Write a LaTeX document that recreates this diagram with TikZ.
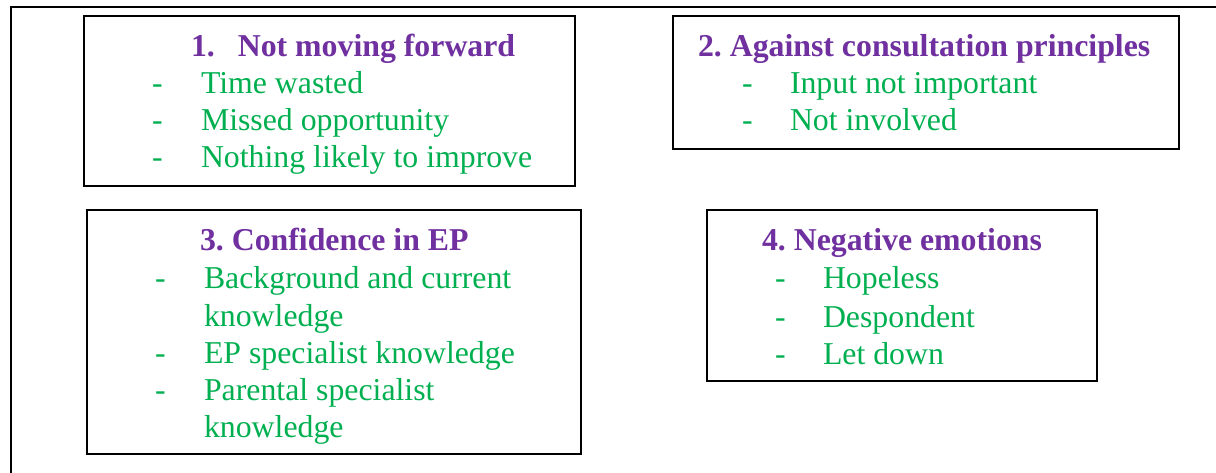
\documentclass[tikz,border=0pt]{standalone}
\usepackage{fontspec}
\setmainfont{Liberation Serif}
\usetikzlibrary{fit}
\definecolor{tpurple}{HTML}{7030A0}
\definecolor{tgreen}{HTML}{00B050}
\begin{document}
\frenchspacing
\begin{tikzpicture}[x={(1pt,0)},y={(0,-1pt)},
  box/.style={draw=black, line width=2pt, inner sep=0pt, outer sep=0pt, rectangle},
  ttl/.style={anchor=base west, inner sep=0pt, outer sep=0pt, text=tpurple, font=\fontsize{31.8}{36.8}\selectfont\bfseries},
  itm/.style={anchor=base west, inner sep=0pt, outer sep=0pt, text=tgreen, font=\fontsize{31.8}{36.8}\selectfont},
  dsh/.style={anchor=base west, inner sep=0pt, outer sep=0pt, text=tgreen, font=\fontsize{31.8}{36.8}\selectfont}]
\useasboundingbox (0,0) rectangle (1216,473);
\fill[white] (0,0) rectangle (1216,473);
% outer frame (partially visible)
\coordinate (fbl) at (10.5,473);
\coordinate (ftl) at (10.5,7.5);
\coordinate (ftr) at (1216,7.5);
\draw[line width=2pt] (fbl) -- (ftl) -- (ftr);
% boxes
\coordinate (b1nw) at (84,16);  \coordinate (b1se) at (575,186);
\coordinate (b2nw) at (673,16); \coordinate (b2se) at (1179,149);
\coordinate (b3nw) at (87,210); \coordinate (b3se) at (581,454);
\coordinate (b4nw) at (707,210);\coordinate (b4se) at (1097,381);
\node[box, fit=(b1nw)(b1se)] (b1) {};
\node[box, fit=(b2nw)(b2se)] (b2) {};
\node[box, fit=(b3nw)(b3se)] (b3) {};
\node[box, fit=(b4nw)(b4se)] (b4) {};
% box 1
\node[ttl] (t1) at (191,57) {1.\hspace{23pt}Not moving forward};
\node[dsh] (d11) at (152,94) {-};
\node[itm] (i11) at (201,94) {Time wasted};
\node[dsh] (d12) at (152,131) {-};
\node[itm] (i12) at (201,131) {Missed opportunity};
\node[dsh] (d13) at (152,168) {-};
\node[itm] (i13) at (201,168) {Nothing likely to improve};
% box 2
\node[ttl] (t2) at (698,57) {2. Against consultation principles};
\node[dsh] (d21) at (742,94) {-};
\node[itm] (i21) at (790,94) {Input not important};
\node[dsh] (d22) at (742,131) {-};
\node[itm] (i22) at (790,131) {Not involved};
% box 3
\node[ttl] (t3) at (200,251) {3. Confidence in EP};
\node[dsh] (d31) at (155,289) {-};
\node[itm] (i31) at (204,289) {Background and current};
\node[itm] (i31b) at (204,326) {knowledge};
\node[dsh] (d32) at (155,363) {-};
\node[itm] (i32) at (204,363) {EP specialist knowledge};
\node[dsh] (d33) at (155,400) {-};
\node[itm] (i33) at (204,400) {Parental specialist};
\node[itm] (i33b) at (204,437) {knowledge};
% box 4
\node[ttl] (t4) at (762,251) {4. Negative emotions};
\node[dsh] (d41) at (775,289) {-};
\node[itm] (i41) at (823,289) {Hopeless};
\node[dsh] (d42) at (775,327) {-};
\node[itm] (i42) at (823,327) {Despondent};
\node[dsh] (d43) at (775,364) {-};
\node[itm] (i43) at (823,364) {Let down};
\end{tikzpicture}
\end{document}
